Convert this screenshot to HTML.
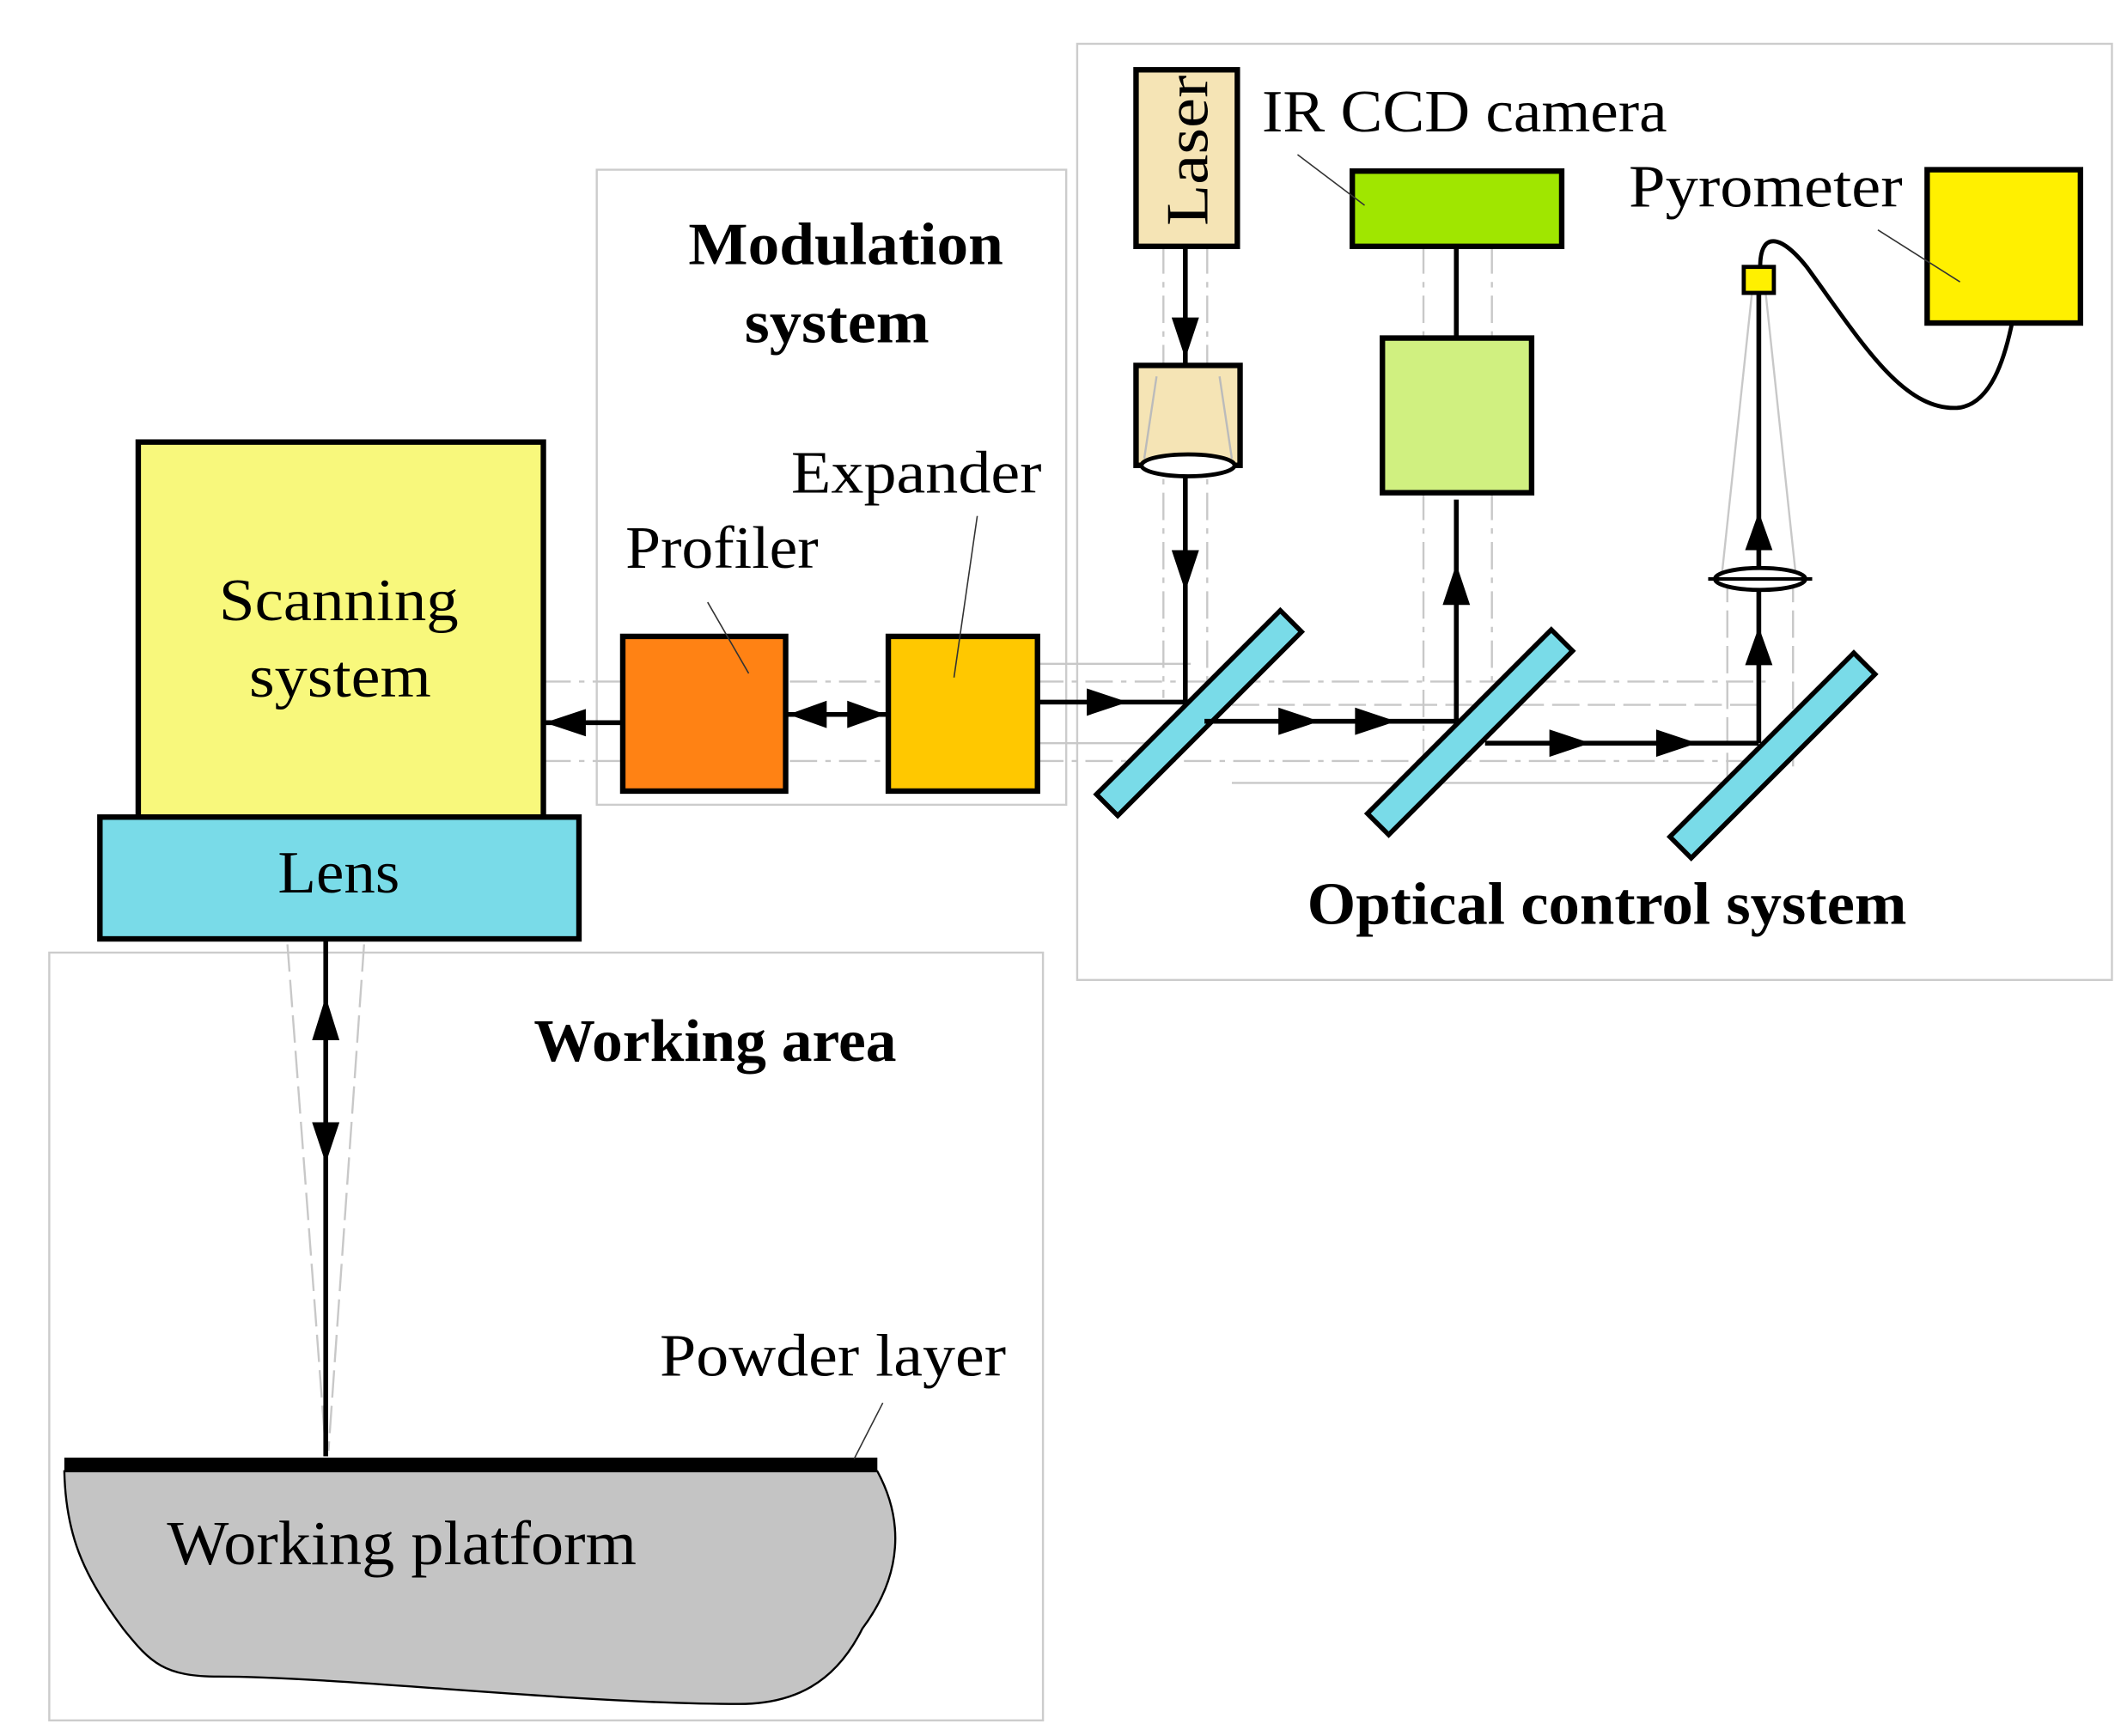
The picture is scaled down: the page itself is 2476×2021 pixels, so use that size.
<!DOCTYPE html>
<html><head><style>html,body{margin:0;padding:0;background:#fff}svg{display:block}</style></head><body>
<svg width="2476" height="2021" viewBox="0 0 1554 1268.4" preserveAspectRatio="none" xmlns="http://www.w3.org/2000/svg" font-family="'Liberation Serif',serif">
<rect width="1554" height="1269" fill="#fff"/>
<g fill="none" stroke="#ccc" stroke-width="1.5">
<rect x="787" y="32" width="756" height="684"/>
<rect x="436" y="124" width="343" height="464"/>
<rect x="36" y="696" width="726" height="561"/>
</g>
<g stroke="#c8c8c8" stroke-width="1.5" fill="none">
<line x1="397" y1="498" x2="1290" y2="498" stroke-dasharray="20,6,4,6"/>
<line x1="397" y1="556" x2="1290" y2="556" stroke-dasharray="20,6,4,6"/>
<line x1="760" y1="485" x2="870" y2="485"/>
<line x1="760" y1="543" x2="860" y2="543"/>
<line x1="850" y1="180" x2="850" y2="510" stroke-dasharray="20,6,4,6"/>
<line x1="882" y1="180" x2="882" y2="510" stroke-dasharray="20,6,4,6"/>
<line x1="1040" y1="180" x2="1040" y2="570" stroke-dasharray="20,6,4,6"/>
<line x1="1090" y1="180" x2="1090" y2="530" stroke-dasharray="20,6,4,6"/>
<line x1="900" y1="515" x2="1290" y2="515" stroke-dasharray="20,6"/>
<line x1="900" y1="572" x2="1290" y2="572"/>
<line x1="1262" y1="420" x2="1262" y2="570" stroke-dasharray="20,6"/>
<line x1="1310" y1="420" x2="1310" y2="560" stroke-dasharray="20,6"/>
<line x1="1280" y1="214" x2="1258" y2="420"/>
<line x1="1290" y1="214" x2="1312" y2="420"/>
<line x1="210" y1="690" x2="238" y2="1060" stroke-dasharray="20,6"/>
<line x1="266" y1="690" x2="240" y2="1060" stroke-dasharray="20,6"/>
</g>
<g stroke="#000" stroke-width="4">
<rect x="101" y="323" width="296" height="274" fill="#f8f87c"/>
<rect x="73" y="597" width="350" height="89" fill="#79dbe8"/>
<rect x="455" y="465" width="119" height="113" fill="#ff8214"/>
<rect x="649" y="465" width="109" height="113" fill="#ffc800"/>
<rect x="830" y="51" width="74" height="129" fill="#f5e4b5"/>
<rect x="830" y="267" width="76" height="73" fill="#f5e4b5"/>
<rect x="988" y="125" width="153" height="55" fill="#a0e600"/>
<rect x="1010" y="247" width="109" height="113" fill="#d0f080"/>
<rect x="1408" y="124" width="112" height="112" fill="#fff000"/>
<rect x="1274" y="195" width="22" height="19" fill="#fff000" stroke-width="3"/>
</g>
<line x1="845" y1="275" x2="836" y2="335" stroke="#bbb" stroke-width="1.5"/>
<line x1="891" y1="275" x2="900" y2="335" stroke="#bbb" stroke-width="1.5"/>
<ellipse cx="868" cy="340" rx="34" ry="8" fill="#fff" stroke="#000" stroke-width="3"/>
<g fill="#79dbe8" stroke="#000" stroke-width="3.5">
<rect x="-95" y="-11" width="190" height="22" transform="translate(876,521) rotate(-45)"/>
<rect x="-95" y="-11" width="190" height="22" transform="translate(1074,535) rotate(-45)"/>
<rect x="-95" y="-11" width="190" height="22" transform="translate(1295,552) rotate(-45)"/>
</g>
<g stroke="#000" stroke-width="3.5" fill="none">
<line x1="758" y1="513" x2="866" y2="513"/>
<line x1="866" y1="180" x2="866" y2="267"/>
<line x1="866" y1="348" x2="866" y2="513"/>
<line x1="880" y1="527" x2="1064" y2="527"/>
<line x1="1064" y1="365" x2="1064" y2="527"/>
<line x1="1064" y1="180" x2="1064" y2="247"/>
<line x1="1085" y1="543" x2="1285" y2="543"/>
<line x1="1285" y1="214" x2="1285" y2="543"/>
<line x1="397" y1="528" x2="455" y2="528"/>
<line x1="574" y1="522" x2="649" y2="522"/>
<line x1="238" y1="686" x2="238" y2="1064"/>
<path d="M1286,195 C1286,170 1300,170 1320,195 C1360,250 1390,300 1430,298 C1455,296 1465,260 1470,236" stroke-width="3"/>
</g>
<ellipse cx="1286" cy="423" rx="33" ry="8" fill="#fff" stroke="#000" stroke-width="3"/>
<line x1="1248" y1="423" x2="1324" y2="423" stroke="#000" stroke-width="2.5"/>
<g fill="#000">
<path d="M794,503L824,513L794,523z"/>
<path d="M934,517L964,527L934,537z"/>
<path d="M990,517L1020,527L990,537z"/>
<path d="M1132,533L1162,543L1132,553z"/>
<path d="M1210,533L1240,543L1210,553z"/>
<path d="M856,232L876,232L866,262z"/>
<path d="M856,402L876,402L866,432z"/>
<path d="M1054,442L1074,442L1064,412z"/>
<path d="M1275,402L1295,402L1285,374z"/>
<path d="M1275,486L1295,486L1285,458z"/>
<path d="M428,518L398,528L428,538z"/>
<path d="M604,512L576,522L604,532z"/>
<path d="M619,512L647,522L619,532z"/>
<path d="M228,760L248,760L238,728z"/>
<path d="M228,820L248,820L238,850z"/>
</g>
<path d="M47,1075 L641,1075 C660,1110 660,1150 630,1190 C610,1230 580,1245 540,1245 C420,1245 250,1225 160,1225 C120,1225 110,1215 90,1190 C60,1150 48,1120 47,1075z" fill="#c4c4c4" stroke="#000" stroke-width="1.5"/>
<line x1="47" y1="1070" x2="641" y2="1070" stroke="#000" stroke-width="10"/>
<g stroke="#333" stroke-width="1">
<line x1="517" y1="440" x2="547" y2="492"/>
<line x1="714" y1="377" x2="697" y2="495"/>
<line x1="948" y1="113" x2="997" y2="150"/>
<line x1="1372" y1="168" x2="1432" y2="206"/>
<line x1="645" y1="1025" x2="624" y2="1066"/>
</g>
<g font-size="44" fill="#000" lengthAdjust="spacingAndGlyphs">
<text x="160" y="453" textLength="175" lengthAdjust="spacingAndGlyphs">Scanning</text>
<text x="182" y="509" textLength="133" lengthAdjust="spacingAndGlyphs">system</text>
<text x="203" y="652" textLength="89" lengthAdjust="spacingAndGlyphs">Lens</text>
<text x="503" y="193" font-weight="bold" textLength="230" lengthAdjust="spacingAndGlyphs">Modulation</text>
<text x="544" y="250" font-weight="bold" textLength="135" lengthAdjust="spacingAndGlyphs">system</text>
<text x="457" y="415" textLength="141" lengthAdjust="spacingAndGlyphs">Profiler</text>
<text x="578" y="360" textLength="183" lengthAdjust="spacingAndGlyphs">Expander</text>
<text x="922" y="96" textLength="296" lengthAdjust="spacingAndGlyphs">IR CCD camera</text>
<text x="1190" y="151" textLength="200" lengthAdjust="spacingAndGlyphs">Pyrometer</text>
<text transform="translate(882,165) rotate(-90)" textLength="110" lengthAdjust="spacingAndGlyphs">Laser</text>
<text x="955" y="675" font-weight="bold" textLength="438" lengthAdjust="spacingAndGlyphs">Optical control system</text>
<text x="390" y="775" font-weight="bold" textLength="265" lengthAdjust="spacingAndGlyphs">Working area</text>
<text x="482" y="1005" textLength="253" lengthAdjust="spacingAndGlyphs">Powder layer</text>
<text x="122" y="1143" font-size="46" textLength="343" lengthAdjust="spacingAndGlyphs">Working platform</text>
</g>
</svg>
</body></html>
